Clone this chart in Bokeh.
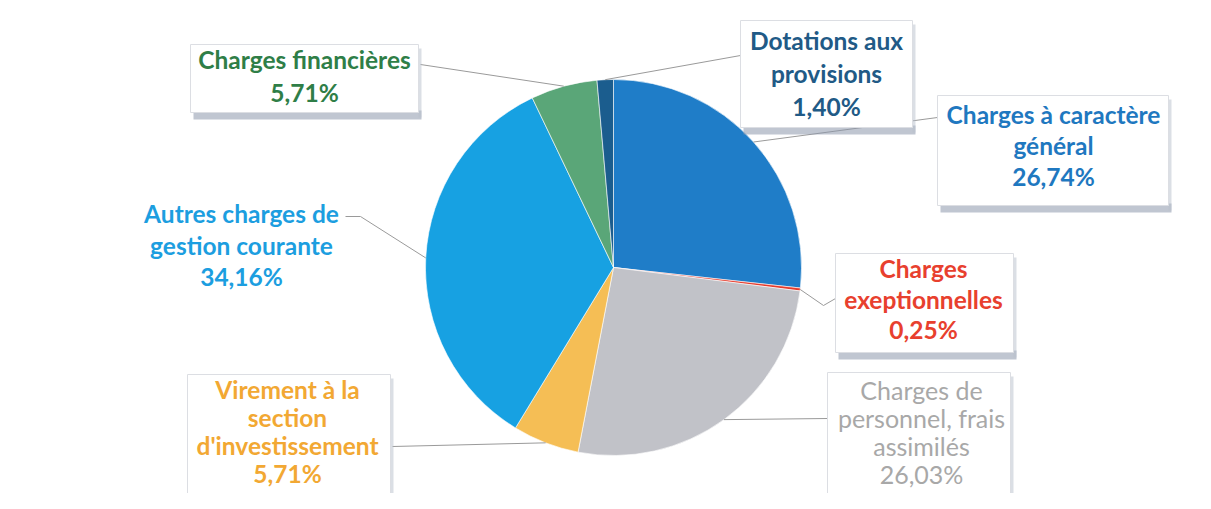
import math
from bokeh.plotting import figure
from bokeh.models import Range1d, ColumnDataSource
from bokeh.core.properties import value
from bokeh.embed import file_html
from bokeh.resources import INLINE

# ---- data ----
categories = ["Charges à caractère général", "Charges exceptionnelles",
              "Charges de personnel, frais assimilés", "Virement à la section d'investissement",
              "Autres charges de gestion courante", "Charges financières", "Dotations aux provisions"]
shares = [26.74, 0.25, 26.03, 5.71, 34.16, 5.71, 1.40]
pct_labels = ["26,74%", "0,25%", "26,03%", "5,71%", "34,16%", "5,71%", "1,40%"]
label_lines = [["Charges à caractère", "général"],
               ["Charges", "exeptionnelles"],
               ["Charges de", "personnel, frais", "assimilés"],
               ["Virement à la", "section", "d'investissement"],
               ["Autres charges de", "gestion courante"],
               ["Charges financières"],
               ["Dotations aux", "provisions"]]

slice_colors = ["#1f7dc8", "#e53b2c", "#c1c2c8", "#f5be55", "#17a1e2", "#5aa678", "#1b5d8e"]
text_colors = ["#1f78c0", "#e8402e", "#a8a8a8", "#f2a833", "#1c9ee0", "#2f7e47", "#215a86"]
bold = [True, True, False, True, True, True, True]

# ---- layout (picture pixel coordinates, origin top-left) ----
W, H = 1195, 493
def Y(y):
    return H - y

CX, CY, R = 613, 267, 188
# box: left, top, right, bottom (None = no box)
boxes = [(937, 95, 1168, 205), (835, 253, 1013, 352), (827, 372, 1010, 540),
         (187, 374, 390, 540), None, (190, 44, 418, 112), (740, 20, 912, 127)]
text_cx = [1053, 923, 921, 287, 241, 304, 826]
text_mid0 = [114, 268, 389, 389, 213, 59, 40]
line_sp = [31, 30.5, 28, 28, 31.5, 33, 33]
# leader line anchors near label (points from label toward pie)
anchors = [[(937, 117)], [(835, 298), (823, 305)], [(827, 418)], [(392, 446)],
           [(345, 216), (360, 216)], [(420, 64)], [(740, 55)]]

p = figure(width=W, height=H, output_backend="svg", toolbar_location=None,
           x_range=Range1d(0, W), y_range=Range1d(0, H),
           min_border=0, outline_line_color=None, background_fill_color="white",
           border_fill_color="white")
p.axis.visible = False
p.grid.visible = False

# ---- pie ----
total = sum(shares)
starts, ends, mids = [], [], []
cum = 0.0
for s in shares:
    a0 = math.pi / 2 - 2 * math.pi * cum / total
    cum += s
    a1 = math.pi / 2 - 2 * math.pi * cum / total
    starts.append(a1)
    ends.append(a0)
    mids.append((a0 + a1) / 2)

src = ColumnDataSource(dict(start=starts, end=ends, color=slice_colors, cat=categories))
p.wedge(x=CX, y=Y(CY), radius=R, start_angle="start", end_angle="end",
        fill_color="color", line_color="white", line_width=0.6, source=src)

# ---- leader lines ----
xs, ys = [], []
for i, m in enumerate(mids):
    ex = CX + R * math.cos(m)
    ey = Y(CY) + R * math.sin(m)
    xs.append([pt[0] for pt in anchors[i]] + [ex])
    ys.append([Y(pt[1]) for pt in anchors[i]] + [ey])
p.multi_line(xs=xs, ys=ys, line_color="#9a9a9a", line_width=1)

# ---- label boxes ----
for b in boxes:
    if b is None:
        continue
    l, t, r_, btm = b
    p.quad(left=l + 3, right=r_ + 3, top=Y(btm - 2), bottom=Y(btm + 7),
           fill_color="#8c97ab", fill_alpha=0.55, line_color=None)
    p.quad(left=r_, right=r_ + 3, top=Y(t + 4), bottom=Y(btm + 5),
           fill_color="#b8bfcc", fill_alpha=0.5, line_color=None)
    p.quad(left=l, right=r_, top=Y(t), bottom=Y(btm),
           fill_color="white", line_color="#dcdee3", line_width=1)

# ---- texts ----
for i in range(len(categories)):
    lines = label_lines[i] + [pct_labels[i]]
    tx = [text_cx[i]] * len(lines)
    ty = [Y(text_mid0[i] + k * line_sp[i]) for k in range(len(lines))]
    p.text(x=tx, y=ty, text=lines, text_align="center", text_baseline="middle",
           text_font=value("Lato"), text_font_size="24.5px" if bold[i] else "25px",
           text_font_style="bold" if bold[i] else "normal",
           text_color=text_colors[i])

open("out.html", "w").write(file_html(p, INLINE))
